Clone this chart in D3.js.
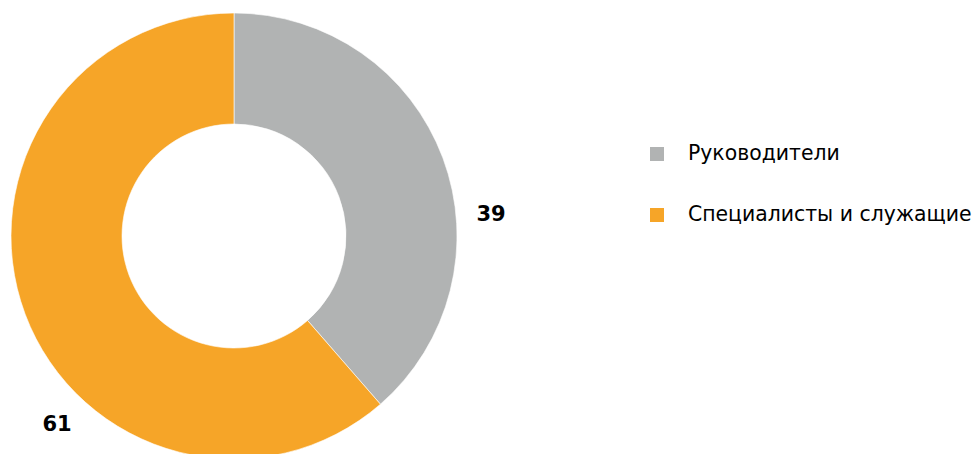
<!DOCTYPE html>
<html><head><meta charset="utf-8">
<script src="https://cdn.jsdelivr.net/npm/d3@7"></script>
<style>body{margin:0;background:#fff}svg{display:block}</style>
</head><body>
<svg id="c" width="977" height="454"></svg>
<script>
const categories = ["Руководители", "Специалисты и служащие"];
const values = [38.6, 61.4];
const valueLabels = ["39", "61"];
const colors = ["#B1B3B3", "#F6A528"];

const svg = d3.select("#c");
const cx = 234, cy = 236, R = 223, r = 112;
const g = svg.append("g").attr("transform", `translate(${cx},${cy})`);
const pie = d3.pie().sort(null).value(d => d)(values);
const arc = d3.arc().innerRadius(r).outerRadius(R);
g.selectAll("path").data(pie).join("path")
  .attr("d", arc).attr("fill", (d, i) => colors[i])
  .attr("stroke", "#fff").attr("stroke-width", 0.6);

const labelPos = [[491, 221], [57, 431]];
svg.selectAll("text.val").data(valueLabels).join("text").attr("class", "val")
  .attr("x", (d, i) => labelPos[i][0]).attr("y", (d, i) => labelPos[i][1])
  .attr("text-anchor", "middle")
  .attr("font-family", "DejaVu Sans").attr("font-weight", "bold")
  .attr("font-size", 21).attr("fill", "#000").text(d => d);

const lg = svg.append("g");
categories.forEach((c, i) => {
  const y = 154 + i * 61;
  lg.append("rect").attr("x", 650).attr("y", y - 7).attr("width", 14).attr("height", 14).attr("fill", colors[i]);
  lg.append("text").attr("x", 688).attr("y", y + 6)
    .attr("font-family", "DejaVu Sans").attr("font-size", 20.4).attr("fill", "#000")
    .text(c);
});
</script>
</body></html>
